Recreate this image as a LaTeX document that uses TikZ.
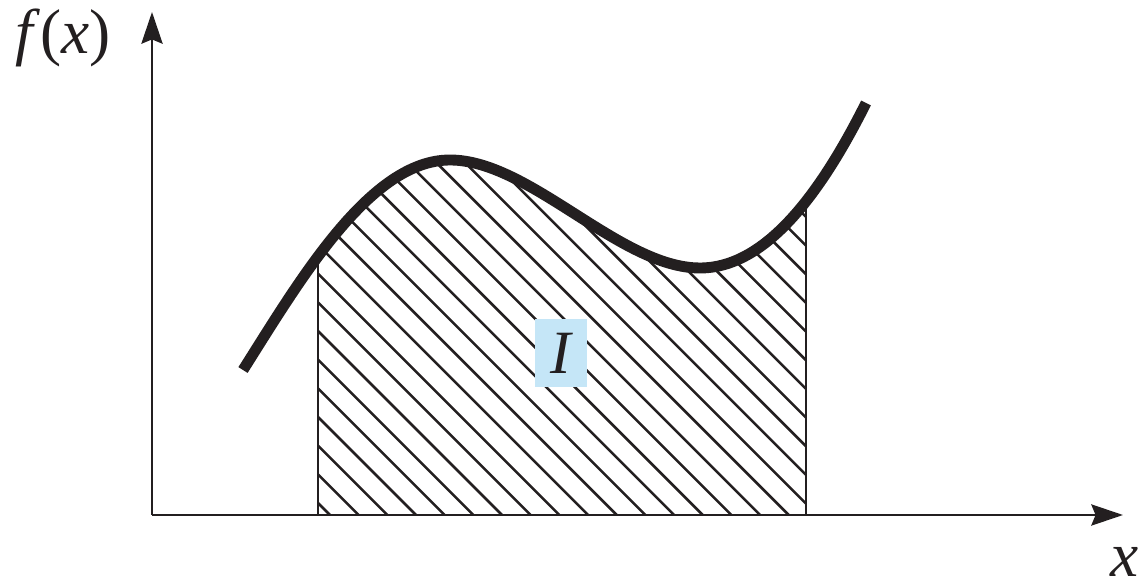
\documentclass[tikz,border=0pt]{standalone}
\usepackage{fontspec}
\setmainfont{Liberation Serif}
\usetikzlibrary{arrows.meta}
\definecolor{lblue}{RGB}{197,230,247}
\definecolor{ink}{RGB}{35,31,32}
\begin{document}
\begin{tikzpicture}[x=0.01cm,y=-0.01cm,
  axisline/.style={line width=0.85pt, draw=ink, -{Stealth[length=9pt,width=6pt,inset=1.2pt]}},
  hatchline/.style={line width=0.72pt, draw=ink},
  edgeline/.style={line width=0.75pt, draw=ink},
  curveline/.style={line width=3.1pt, draw=ink},
  lab/.style={font=\fontsize{18}{20}\selectfont, text=ink, inner sep=0pt},
  areabox/.style={fill=lblue, minimum width=0.51cm, minimum height=0.67cm, inner sep=0pt,
    font=\fontsize{17.5}{19}\selectfont\itshape, text=ink}]
\useasboundingbox (0,0) rectangle (1140,586);
\coordinate (O) at (152,515);
\coordinate (ytip) at (152,12);
\coordinate (xtip) at (1123,515);
\coordinate (aL) at (318,515);
\coordinate (aLt) at (318,250);
\coordinate (bR) at (806,515);
\coordinate (bRt) at (806,203);
% hatching
\begin{scope}
  \clip (318,515) rectangle (806,0);
  \clip (243,370) .. controls (300,280) and (370,160) .. (450,160)
        .. controls (530,160) and (620,268) .. (700,268)
        .. controls (765,268) and (820,195) .. (866,103)
        -- (866,515) -- (243,515) -- cycle;
  \foreach \k in {-1,...,29}
    \draw[hatchline] ({330+28.67*\k-440},75) -- ({330+28.67*\k},515);
\end{scope}
\draw[edgeline] (aL) -- (aLt);
\draw[edgeline] (bR) -- (bRt);
\draw[curveline] (243,370) .. controls (300,280) and (370,160) .. (450,160)
        .. controls (530,160) and (620,268) .. (700,268)
        .. controls (765,268) and (820,195) .. (866,103);
\draw[axisline] (O) -- (ytip);
\draw[axisline] (O) -- (xtip);
\node[lab] (fx) at (63,38) {\textit{f}(\textit{x})};
\node[lab] (xl) at (1125,562) {\textit{x}};
\node[areabox] (I) at (561,353) {I};
\end{tikzpicture}
\end{document}
